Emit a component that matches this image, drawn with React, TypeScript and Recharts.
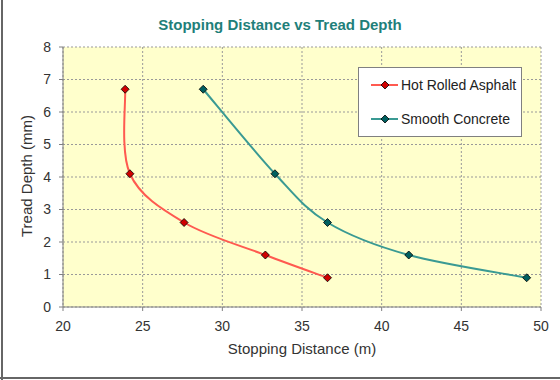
import { ScatterChart, Scatter, XAxis, YAxis, CartesianGrid, Legend } from "recharts";

const depths = [0.9, 1.6, 2.6, 4.1, 6.7];
const asphaltDistance = [36.6, 32.7, 27.6, 24.2, 23.9];
const concreteDistance = [49.1, 41.7, 36.6, 33.3, 28.8];
const xTicks = [20, 25, 30, 35, 40, 45, 50];
const yTicks = [0, 1, 2, 3, 4, 5, 6, 7, 8];

const asphalt = depths.map((d, i) => ({ distance: asphaltDistance[i], depth: d }));
const concrete = depths.map((d, i) => ({ distance: concreteDistance[i], depth: d }));

const FONT = "Arial, 'Liberation Sans', sans-serif";

// excel-style smoothed line (catmull-rom through the points)
const smoothCurve = (context: any) => {
    let pts: number[][] = [];
    return {
        areaStart() {},
        areaEnd() {},
        lineStart() {
            pts = [];
        },
        point(x: number, y: number) {
            pts.push([+x, +y]);
        },
        lineEnd() {
            if (!pts.length) return;
            context.moveTo(pts[0][0], pts[0][1]);
            for (let i = 0; i < pts.length - 1; i++) {
                const p0 = pts[i - 1] || pts[i];
                const p1 = pts[i];
                const p2 = pts[i + 1];
                const p3 = pts[i + 2] || p2;
                context.bezierCurveTo(
                    p1[0] + (p2[0] - p0[0]) / 6,
                    p1[1] + (p2[1] - p0[1]) / 6,
                    p2[0] - (p3[0] - p1[0]) / 6,
                    p2[1] - (p3[1] - p1[1]) / 6,
                    p2[0],
                    p2[1]
                );
            }
        },
    };
};

const diamond = (fill: string) => (props: any) => {
    const { cx, cy } = props;
    const r = 4;
    return (
        <polygon
            points={`${cx},${cy - r} ${cx + r},${cy} ${cx},${cy + r} ${cx - r},${cy}`}
            fill={fill}
            stroke="#000"
            strokeWidth={0.8}
        />
    );
};

const series = [
    { name: "Hot Rolled Asphalt", line: "#FF5A50", marker: "#D00000" },
    { name: "Smooth Concrete", line: "#3A9A93", marker: "#005F5F" },
];

const renderLegend = () => (
    <div
        style={{
            width: 164,
            height: 70,
            background: "#fff",
            border: "1px solid #808080",
            boxSizing: "border-box",
            fontFamily: FONT,
            fontSize: 14,
            color: "#222",
        }}
    >
        {series.map((s) => (
            <div key={s.name} style={{ display: "flex", alignItems: "center", height: 34 }}>
                <svg width={30} height={12} style={{ marginLeft: 12 }}>
                    <line x1={0} y1={6} x2={27} y2={6} stroke={s.line} strokeWidth={2} />
                    <polygon points="14,2 18,6 14,10 10,6" fill={s.marker} stroke="#000" strokeWidth={0.8} />
                </svg>
                <span>{s.name}</span>
            </div>
        ))}
    </div>
);

const App = () => {
    return (
        <div style={{ position: "absolute", left: 0, top: 0, width: 560, height: 380, background: "#fff" }}>
            <div style={{ position: "absolute", left: 1, top: 0, width: 2, height: 380, background: "#666" }} />
            <div style={{ position: "absolute", left: 0, top: 377, width: 560, height: 2, background: "#666" }} />
            <div
                style={{
                    position: "absolute",
                    top: 16,
                    left: 0,
                    width: 560,
                    textAlign: "center",
                    fontFamily: FONT,
                    fontWeight: "bold",
                    fontSize: 15,
                    color: "#1F7F7A",
                }}
            >
                Stopping Distance vs Tread Depth
            </div>
            <div
                style={{
                    position: "absolute",
                    left: 26,
                    top: 176,
                    transform: "translate(-50%, -50%) rotate(-90deg)",
                    whiteSpace: "nowrap",
                    fontFamily: FONT,
                    fontSize: 15,
                    color: "#333",
                }}
            >
                Tread Depth (mm)
            </div>
            <div
                style={{
                    position: "absolute",
                    left: 302,
                    top: 348,
                    transform: "translate(-50%, -50%)",
                    whiteSpace: "nowrap",
                    fontFamily: FONT,
                    fontSize: 15,
                    color: "#333",
                }}
            >
                Stopping Distance (m)
            </div>
            <div style={{ position: "absolute", left: 0, top: 0 }}>
                <ScatterChart width={560} height={380} margin={{ top: 47, right: 19, bottom: 43, left: 23 }}>
                    <CartesianGrid fill="#FFFFCC" stroke="#999" strokeDasharray="2 2" />
                    <XAxis
                        type="number"
                        dataKey="distance"
                        domain={[20, 50]}
                        ticks={xTicks}
                        height={30}
                        tickSize={4}
                        tickMargin={10}
                        stroke="#808080"
                        tick={{ fill: "#333", fontSize: 14, fontFamily: FONT }}
                    />
                    <YAxis
                        type="number"
                        dataKey="depth"
                        domain={[0, 8]}
                        ticks={yTicks}
                        width={40}
                        tickSize={4}
                        tickMargin={8}
                        stroke="#808080"
                        tick={{ fill: "#333", fontSize: 14, fontFamily: FONT }}
                    />
                    <Legend
                        layout="vertical"
                        align="center"
                        verticalAlign="middle"
                        content={renderLegend}
                        wrapperStyle={{ left: 358, top: 67, width: 164, height: 70 }}
                    />
                    <Scatter
                        name={series[0].name}
                        data={asphalt}
                        line={{ stroke: series[0].line, strokeWidth: 2 }}
                        lineJointType={smoothCurve as any}
                        shape={diamond(series[0].marker)}
                        isAnimationActive={false}
                    />
                    <Scatter
                        name={series[1].name}
                        data={concrete}
                        line={{ stroke: series[1].line, strokeWidth: 2 }}
                        lineJointType={smoothCurve as any}
                        shape={diamond(series[1].marker)}
                        isAnimationActive={false}
                    />
                </ScatterChart>
            </div>
        </div>
    );
};

export default App;
